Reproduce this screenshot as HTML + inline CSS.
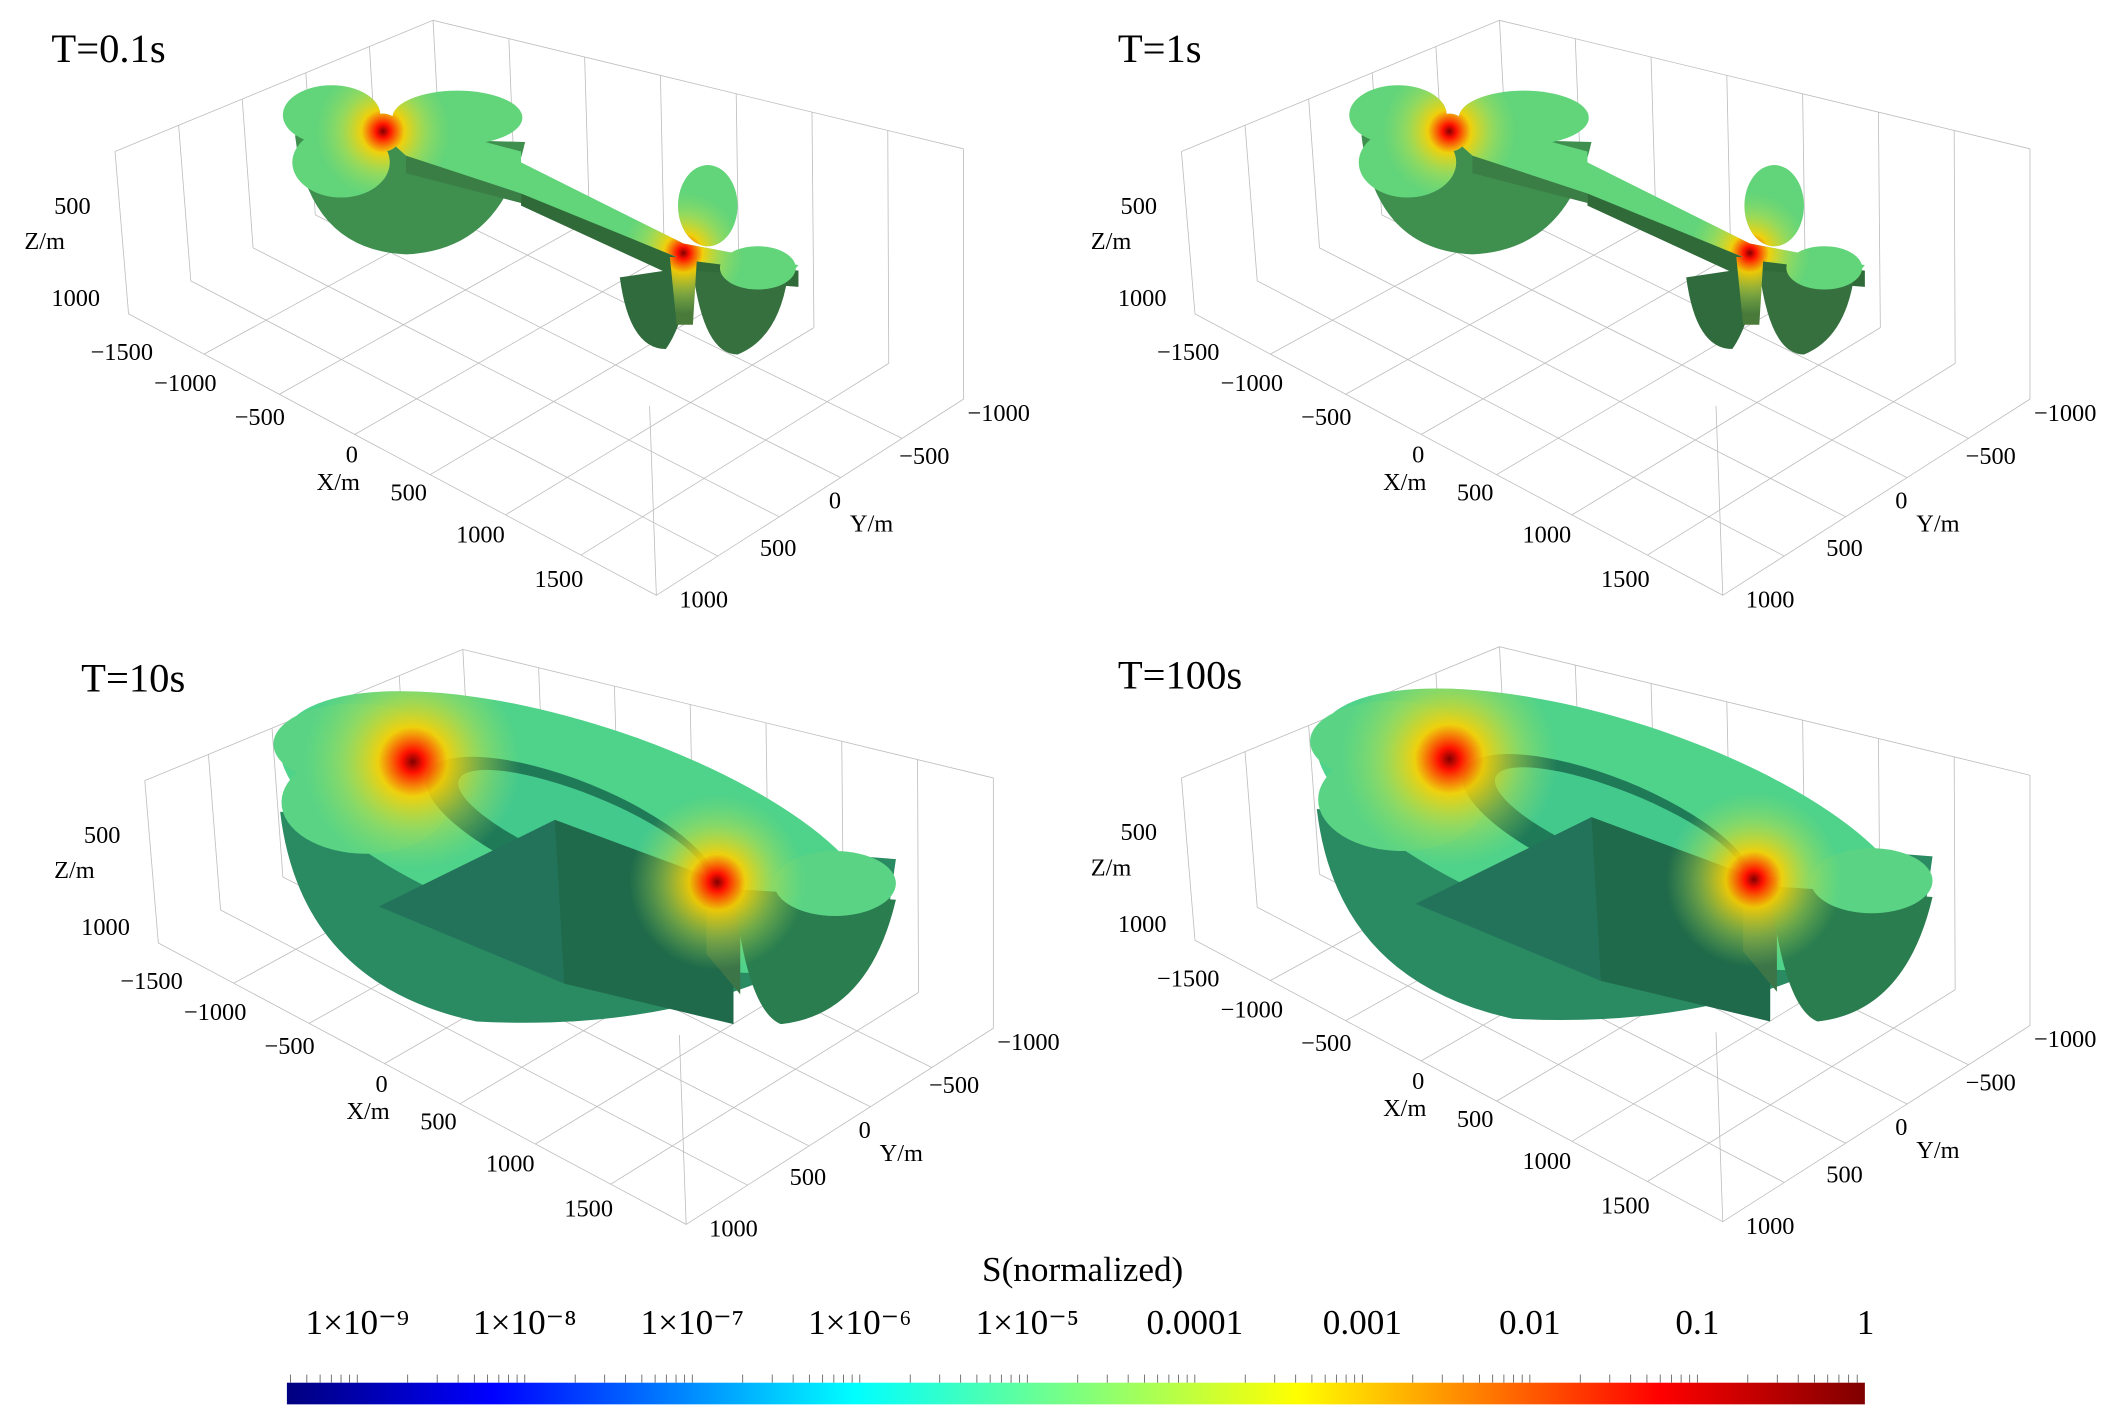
<!DOCTYPE html>
<html><head><meta charset="utf-8"><style>
html,body{margin:0;padding:0;background:#fff;}
svg{display:block;}
text{font-family:"Liberation Serif",serif;fill:#000;}
</style></head><body>
<svg id="fig" width="2122" height="1426" viewBox="0 0 1568 1054" preserveAspectRatio="none" xmlns="http://www.w3.org/2000/svg">
<defs>
<linearGradient id="jet" x1="0" x2="1" y1="0" y2="0">
<stop offset="0" stop-color="#00007f"/><stop offset="0.13" stop-color="#0000ff"/>
<stop offset="0.36" stop-color="#00ffff"/><stop offset="0.5" stop-color="#7dff80"/>
<stop offset="0.64" stop-color="#ffff00"/><stop offset="0.87" stop-color="#ff0000"/>
<stop offset="1" stop-color="#7f0000"/></linearGradient>
<radialGradient id="glow">
<stop offset="0" stop-color="#800000" stop-opacity="1"/>
<stop offset="0.1" stop-color="#ff1000" stop-opacity="1"/>
<stop offset="0.32" stop-color="#ffd000" stop-opacity="0.9"/>
<stop offset="0.65" stop-color="#c8e040" stop-opacity="0.45"/>
<stop offset="1" stop-color="#9be060" stop-opacity="0"/>
</radialGradient>
</defs>
<g id="panels"></g>
<g id="cbar"></g>
</svg>
<script>
const panelTitles = ["T=0.1s","T=1s","T=10s","T=100s"];
const zTicks = ["500","1000"];
const xTicks = ["\u22121500","\u22121000","\u2212500","0","500","1000","1500"];
const yTicks = ["1000","500","0","\u2212500","\u22121000"];
const cbLabels = ["1×10⁻⁹","1×10⁻⁸","1×10⁻⁷","1×10⁻⁶","1×10⁻⁵","0.0001","0.001","0.01","0.1","1"];
const cbPositions = [0,1,2,3,4,5,6,7,8,9];

const NS="http://www.w3.org/2000/svg";
function el(tag,attrs,parent){const e=document.createElementNS(NS,tag);for(const k in attrs)e.setAttribute(k,attrs[k]);parent.appendChild(e);return e;}
const root=document.getElementById('panels');
const defs=document.querySelector('defs');
const offsets=[[0,0],[788,0],[22,465],[788,463]];
const xPos=[[90,260],[137,283],[192,308],[260,336],[302,364],[355,395],[413,428]];
const yPos=[[520,443],[575,405],[617,370],[683,337],[738,305]];
function glow(p,cx,cy,r,clip){el('circle',{cx:cx,cy:cy,r:r,fill:'url(#glow)','clip-path':'url(#'+clip+')'},p);}
panelTitles.forEach((t,i)=>{
  const [dx,dy]=offsets[i];
  const big=i>=2;
  const g=el('g',{transform:`translate(${dx},${dy})`},root);
  
  
  const box=el('g',{stroke:'#bdbdbd','stroke-width':0.6,fill:'none'},g);
  
  
  const P={tl:[85,112],tb:[320,15],tr:[712,110],tf:[480,300],bl:[95,232],bf:[485,440],br:[712,295]};
  el('polyline',{points:`${P.tl} ${P.tb} ${P.tr}`},box);
  el('polyline',{points:`${P.tl} ${P.bl} ${P.bf} ${P.br} ${P.tr}`},box);
  el('line',{x1:P.tb[0],y1:P.tb[1],x2:P.tb[0]+5,y2:P.tb[1]+95},box);
  el('line',{x1:P.tf[0],y1:P.tf[1],x2:P.bf[0],y2:P.bf[1]},box);
  for(let k=1;k<7;k++){const f=k/7;
    el('line',{x1:P.bl[0]+(P.bf[0]-P.bl[0])*f,y1:P.bl[1]+(P.bf[1]-P.bl[1])*f,x2:325+(712-325)*f,y2:110+(295-110)*f},box);
    el('line',{x1:P.tb[0]+(P.tr[0]-P.tb[0])*f,y1:P.tb[1]+(P.tr[1]-P.tb[1])*f,x2:325+(712-325)*f,y2:110+(295-110)*f},box);
  }
  for(let k=1;k<5;k++){const f=k/5;
    el('line',{x1:P.bf[0]+(P.br[0]-P.bf[0])*f,y1:P.bf[1]+(P.br[1]-P.bf[1])*f,x2:P.bl[0]+(325-P.bl[0])*f,y2:P.bl[1]+(110-P.bl[1])*f},box);
    el('line',{x1:P.tl[0]+(P.tb[0]-P.tl[0])*f,y1:P.tl[1]+(P.tb[1]-P.tl[1])*f,x2:P.bl[0]+(325-P.bl[0])*f,y2:P.bl[1]+(110-P.bl[1])*f},box);
  }
  const sh=el('g',{},g);
  
  
  const clipId='clip'+i;
  const cp=el('clipPath',{id:clipId},defs);
  const G='#62d47a';
  function top(tag,attrs){el(tag,attrs,sh);const a=Object.assign({},attrs);delete a.fill;el(tag,a,cp);}
  if(!big){
    el('path',{d:'M218,100 Q228,185 300,188 Q370,185 388,105 Z',fill:'#3f8f4f'},sh);
    top('ellipse',{cx:245,cy:85,rx:36,ry:22,fill:G});
    top('ellipse',{cx:338,cy:87,rx:48,ry:20,fill:G});
    top('ellipse',{cx:252,cy:120,rx:36,ry:26,fill:G});
    top('circle',{cx:283,cy:98,r:14,fill:G});
    el('polygon',{points:'300,112 385,130 385,150 300,128',fill:'#3a7d45'},sh);
    el('polygon',{points:'385,140 500,190 590,200 590,212 500,205 385,152',fill:'#2f6a38'},sh);
    top('polygon',{points:'280,97 340,100 385,112 385,120 505,180 590,196 585,202 505,192 385,143 300,115',fill:G});
    el('path',{d:'M458,205 Q465,258 492,258 Q505,240 512,197 Z',fill:'#2f6b3c'},sh);
    el('path',{d:'M512,200 Q520,262 545,262 Q575,250 582,205 Z',fill:'#36703f'},sh);
    top('ellipse',{cx:523,cy:152,rx:22,ry:30,fill:G});
    top('ellipse',{cx:560,cy:198,rx:28,ry:16,fill:G});
    top('polygon',{points:'495,190 515,190 512,240 500,240',fill:'#4a7a3a'});
    glow(sh,283,97,50,clipId);
    glow(sh,505,187,45,clipId);
  } else {
    el('path',{d:'M185,135 Q200,262 330,290 Q520,300 635,205 L640,170 Z',fill:'#2a8a62'},sh);
    top('ellipse',{cx:405,cy:150,rx:230,ry:80,transform:'rotate(18 405 150)',fill:'#4fd28a'});
    top('ellipse',{cx:240,cy:85,rx:60,ry:30,fill:'#5ad484'});
    top('ellipse',{cx:248,cy:128,rx:62,ry:38,fill:'#5ad484'});
    el('ellipse',{cx:400,cy:150,rx:115,ry:38,transform:'rotate(22 400 150)',fill:'#1f7a58'},sh);
    el('ellipse',{cx:408,cy:148,rx:98,ry:26,transform:'rotate(22 408 148)',fill:'#44c98d'},sh);
    el('polygon',{points:'258,205 388,141 520,190 520,290 395,262',fill:'#22735a'},sh);
    el('polygon',{points:'388,141 520,190 520,292 395,262',fill:'#1f6a4a'},sh);
    top('polygon',{points:'500,185 525,185 525,270 500,240',fill:'#3b7548'});
    el('path',{d:'M520,192 Q530,282 555,292 Q620,285 640,200 Z',fill:'#2a7d4e'},sh);
    top('ellipse',{cx:595,cy:188,rx:45,ry:24,fill:'#5ad484'});
    glow(sh,283,98,80,clipId);
    glow(sh,508,187,65,clipId);
  }
  const tt=el('text',{x:38,y:46,'font-size':30},g); tt.textContent=t;
  
  
  const zl=el('text',{x:18,y:184,'font-size':18},g); zl.textContent='Z/m';
   
  [[40,158],[38,226]].forEach((p,k)=>{const e=el('text',{x:p[0],y:p[1],'font-size':18},g);e.textContent=zTicks[k];
    });
  xTicks.forEach((v,k)=>{const e=el('text',{x:xPos[k][0],y:xPos[k][1]+6,'font-size':18,'text-anchor':'middle'},g);e.textContent=v;
    });
  const xl=el('text',{x:250,y:362,'font-size':18,'text-anchor':'middle'},g); xl.textContent='X/m';
   
  yTicks.forEach((v,k)=>{const e=el('text',{x:yPos[k][0],y:yPos[k][1]+6,'font-size':18,'text-anchor':'middle'},g);e.textContent=v;
    });
  const yl=el('text',{x:628,y:393,'font-size':18},g); yl.textContent='Y/m';
   
});
const cb=document.getElementById('cbar');
const cbX0=212,cbX1=1378;
const cbScale=v=>cbX0+(v+0.42)/(9.42)*(cbX1-cbX0);
el('rect',{x:cbX0,y:1022,width:cbX1-cbX0,height:16,fill:'url(#jet)'},cb);
const ct=el('text',{x:800,y:947,'font-size':26,'text-anchor':'middle'},cb); ct.textContent='S(normalized)';
 
cbLabels.forEach((l,k)=>{
  const x=cbScale(cbPositions[k]);
  const e=el('text',{x:k==9?1385:x,y:986,'font-size':26,'text-anchor':k==9?'end':'middle'},cb);e.textContent=l;
  
  
  for(let m=1;m<10;m++){const xx=cbScale(cbPositions[k]+Math.log10(m)-1);if(xx>=cbX0&&xx<=cbX1)el('line',{x1:xx,x2:xx,y1:1016,y2:1022,stroke:'#555','stroke-width':0.6},cb);}
});
</script>
</body></html>
